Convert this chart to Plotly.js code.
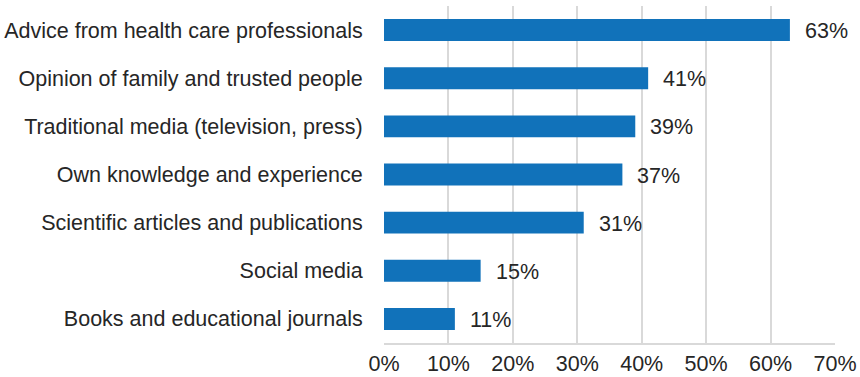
<!DOCTYPE html>
<html>
<head>
<meta charset="utf-8">
<script src="https://cdn.plot.ly/plotly-3.0.1.min.js"></script>
<style>html,body{margin:0;padding:0;background:#fff;}#chart{width:860px;height:377px;}</style>
</head>
<body>
<div id="chart"></div>
<script>
const categories = [
  "Advice from health care professionals",
  "Opinion of family and trusted people",
  "Traditional media (television, press)",
  "Own knowledge and experience",
  "Scientific articles and publications",
  "Social media",
  "Books and educational journals"
];
const values = [63, 41, 39, 37, 31, 15, 11];
const xTicks = [0, 10, 20, 30, 40, 50, 60, 70];
const xTickLabels = ["0%", "10%", "20%", "30%", "40%", "50%", "60%", "70%"];

const font = {family: "Liberation Sans, Arial, sans-serif", size: 21.5, color: "#262626"};

const trace = {
  type: "bar",
  orientation: "h",
  y: categories,
  x: values,
  width: 0.455,
  marker: {color: "#1172BA"},
  hoverinfo: "none"
};

const annotations = values.map((v, i) => ({
  x: v, y: categories[i], xref: "x", yref: "y",
  text: v + "%", showarrow: false, xanchor: "left", xshift: 13, yshift: -1,
  font: font
}));

const layout = {
  width: 860, height: 377,
  margin: {l: 384, r: 25, t: 6, b: 34},
  paper_bgcolor: "#fff", plot_bgcolor: "#fff",
  showlegend: false,
  font: font,
  bargap: 0.545,
  xaxis: {
    range: [0, 70], tickvals: xTicks, ticktext: xTickLabels,
    showgrid: true, gridcolor: "#d9d9d9", gridwidth: 2,
    zeroline: false, showline: true, linecolor: "#d9d9d9", linewidth: 2,
    ticks: "", ticklabelstandoff: 0,
    tickfont: font, fixedrange: true
  },
  yaxis: {
    autorange: "reversed", type: "category",
    showgrid: false, zeroline: false, showline: false,
    ticks: "outside", ticklen: 16, tickcolor: "rgba(0,0,0,0)",
    tickfont: font, fixedrange: true
  },
  annotations: annotations
};

Plotly.newPlot("chart", [trace], layout, {displayModeBar: false, staticPlot: true});
</script>
</body>
</html>
